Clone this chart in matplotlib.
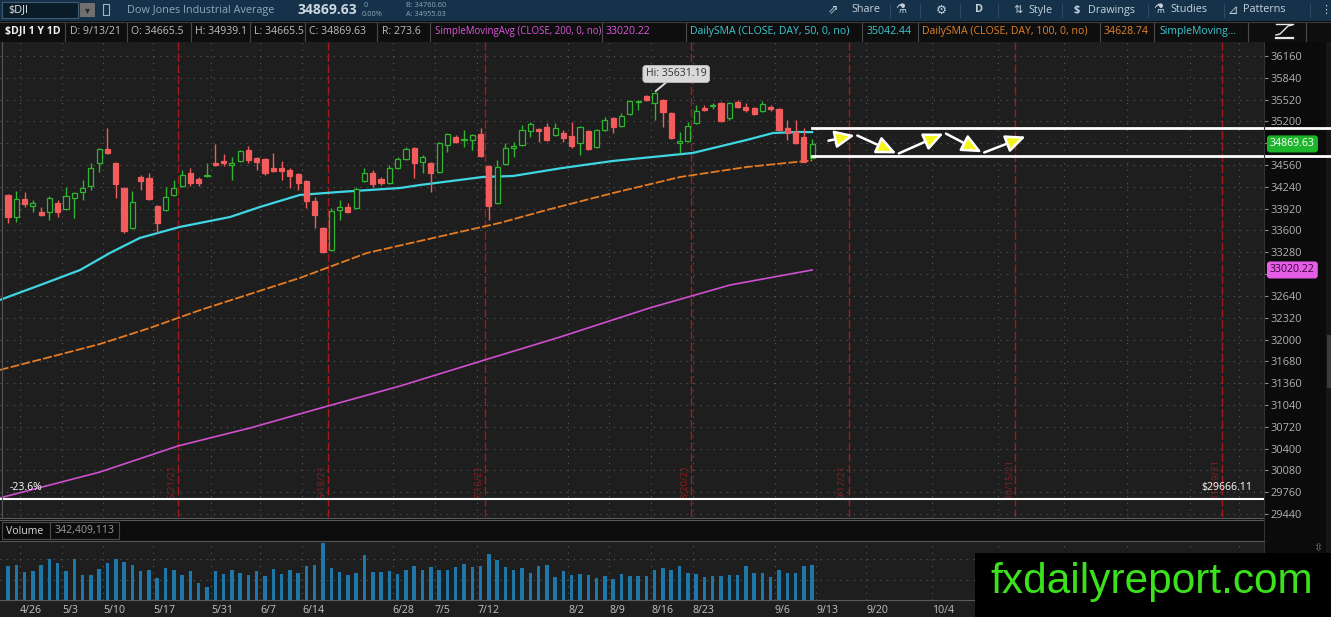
import numpy as np
import matplotlib
matplotlib.use("Agg")
import matplotlib.pyplot as plt
import matplotlib.transforms as mtrans
from matplotlib.patches import Rectangle
from matplotlib.lines import Line2D

# ---------------- data ----------------
opens = [34120, 33797, 34062, 33958, 33871, 33871, 34003, 33915, 34077, 34165,
         34253, 34590, 34795, 34590, 34224, 33636, 34385, 34370, 33959, 33900,
         34121, 34253, 34443, 34355, 34400, 34590, 34620, 34561, 34620, 34781,
         34664, 34649, 34517, 34517, 34487, 34429, 34326, 34033, 33636, 33314,
         33901, 33945, 33930, 34326, 34443, 34355, 34297, 34517, 34649, 34810,
         34605, 34590, 34458, 34854, 34972, 34920, 34928, 35016, 34546, 34003,
         34575, 34810, 34854, 35060, 35090, 35118, 35001, 35030, 34986, 34884,
         35060, 34825, 35074, 35250, 35133, 35309, 35485, 35573, 35470, 35514,
         35324, 34884, 34913, 35177, 35397, 35426, 35470, 35250, 35485, 35412,
         35397, 35353, 35412, 35382, 35104, 35045, 34972, 34665.5]
highs = [34130, 34180, 34165, 34047, 33944, 34106, 34047, 34238, 34165, 34341,
         34590, 34810, 35104, 34600, 34240, 34180, 34414, 34443, 33974, 34238,
         34341, 34487, 34517, 34385, 34590, 34870, 34722, 34678, 34781, 34840,
         34678, 34664, 34737, 34620, 34517, 34443, 34340, 34091, 33650, 33930,
         34047, 34003, 34238, 34517, 34487, 34385, 34561, 34678, 34825, 34830,
         34708, 34600, 34898, 35030, 35001, 35074, 35016, 35104, 34561, 34634,
         34883, 34898, 35148, 35192, 35104, 35177, 35177, 35074, 35192, 35133,
         35074, 35090, 35265, 35265, 35324, 35514, 35514, 35590, 35631.19, 35530,
         35338, 35045, 35192, 35441, 35441, 35470, 35485, 35485, 35514, 35470,
         35412, 35500, 35441, 35397, 35221, 35221, 35104, 34939.1]
lows = [33710, 33725, 33944, 33871, 33812, 33754, 33797, 33900, 33783, 34047,
        34194, 34458, 34722, 34077, 33563, 33620, 34194, 34047, 33563, 33880,
        34106, 34240, 34253, 34253, 34385, 34546, 34546, 34341, 34605, 34590,
        34487, 34414, 34458, 34341, 34224, 34194, 33930, 33636, 33270, 33300,
        33754, 33856, 33915, 34311, 34238, 34260, 34280, 34500, 34630, 34370,
        34443, 34165, 34440, 34751, 34883, 34825, 34781, 34678, 33754, 33990,
        34560, 34678, 34840, 34972, 34898, 34910, 34990, 34898, 34810, 34708,
        34780, 34810, 35060, 35030, 35118, 35294, 35368, 35500, 35221, 35118,
        34940, 34737, 34898, 35163, 35353, 35382, 35192, 35221, 35397, 35338,
        35294, 35338, 35353, 35060, 34928, 34870, 34605, 34665.5]
closes = [33797, 34062, 33988, 34003, 33827, 34077, 33871, 34106, 34150, 34224,
          34517, 34795, 34737, 34282, 33592, 34018, 34326, 34062, 33709, 34091,
          34224, 34414, 34297, 34297, 34414, 34560, 34590, 34590, 34766, 34634,
          34605, 34443, 34473, 34473, 34400, 34297, 34033, 33827, 33284, 33886,
          33945, 33871, 34209, 34443, 34282, 34297, 34517, 34649, 34795, 34590,
          34678, 34443, 34883, 35016, 34898, 34940, 35001, 34693, 33960, 34531,
          34810, 34840, 35074, 35163, 35060, 34928, 35104, 34957, 34840, 35118,
          34795, 35074, 35221, 35118, 35280, 35500, 35500, 35514, 35610, 35338,
          34957, 34913, 35133, 35353, 35368, 35441, 35206, 35470, 35412, 35368,
          35309, 35455, 35382, 35074, 35030, 34884, 34608, 34869.63]
volumes_m = [333, 342, 274, 284, 342, 401, 362, 284, 401, 245,
             245, 303, 362, 401, 372, 342, 284, 293, 215, 313,
             293, 245, 284, 166, 127, 284, 254, 293, 264, 245,
             284, 235, 303, 254, 293, 264, 333, 342, 557, 313,
             274, 245, 264, 440, 274, 274, 284, 254, 293, 333,
             293, 323, 293, 293, 323, 352, 323, 333, 453, 394,
             323, 293, 313, 264, 333, 342, 222, 284, 241, 251,
             241, 212, 231, 202, 251, 231, 231, 231, 293, 313,
             293, 333, 264, 251, 222, 231, 231, 241, 241, 333,
             264, 264, 222, 293, 264, 264, 333, 342.409113]

sma50_pos = [-1, 3.9, 8.7, 12.3, 15.9, 20.7, 26.8, 30.4, 35.2, 40.0, 47.3, 49.7,
             57.3, 60.9, 66.9, 73.0, 79.0, 82.6, 89.1, 92.3, 95.5, 97]
sma50_val = [32580, 32800, 33020, 33270, 33490, 33651, 33798, 33945, 34121, 34165,
             34223, 34267, 34385, 34399, 34517, 34620, 34693, 34737, 34928, 35030,
             35045, 35042.44]
sma100_pos = [-1, 5.1, 11.1, 17.1, 23.2, 29.2, 35.2, 43.3, 51.3, 59.3, 65.0, 73.0,
              81.1, 89.1, 97]
sma100_val = [31553, 31744, 31934, 32169, 32433, 32668, 32903, 33270, 33490, 33710,
              33901, 34150, 34385, 34531, 34628.74]
sma200_pos = [-1, 11.1, 20.5, 29.2, 38.6, 47.3, 57.5, 66.6, 77.4, 87.1, 97]
sma200_val = [29675, 30056, 30438, 30702, 31025, 31318, 31700, 32037, 32463, 32800,
              33020.22]

date_tick_pos = [1.45, 6.5, 11.5, 17.5, 24.5, 30.4, 35.5, 46.4, 51.5, 56.6, 67.6,
                 72.5, 77.6, 82.6, 92.5, 97.5, 103.5, 111.5]
date_tick_labels = ['4/26', '5/3', '5/10', '5/17', '5/31', '6/7', '6/14', '6/28',
                    '7/5', '7/12', '8/2', '8/9', '8/16', '8/23', '9/6', '9/13',
                    '9/20', '10/4']
future_grid_pos = [119.4, 127.4, 135.0, 142.6, 148.5]
expiry_pos = [20.5, 38.6, 57.5, 82.4, 101.4, 121.5, 146.4]
expiry_labels = ['5/21/21', '6/18/21', '7/16/21', '8/20/21', '9/17/21', '10/15/21',
                 '11/19/21']
price_ticks = [29440, 29760, 30080, 30400, 30720, 31040, 31360, 31680, 32000, 32320,
               32640, 32960, 33280, 33600, 33920, 34240, 34560, 34880, 35200, 35520,
               35840, 36160]
hidden_price_labels = [32960, 34880]   # covered by the price bubbles
fib_level = 29666.11
range_top, range_bottom = 35100, 34690
zigzag_pos = [98.8, 102.3, 107.3, 113.0, 117.6, 122.9]
zigzag_val = [34913, 35001, 34722, 35030, 34737, 34986]
hi_index, hi_value = 78, 35631.19
last_close = 34869.63
sma200_last = 33020.22

# ---------------- figure ----------------
W, H = 1331, 617
plt.rcParams['font.family'] = ['Open Sans', 'DejaVu Sans']
fig = plt.figure(figsize=(W / 100, H / 100), dpi=100)
fig.patch.set_facecolor('#1e1e1e')

BG = '#1e1e1e'
GREEN = '#2fb52f'
RED = '#f25c5c'
GRID = '#5a5a5a'
SYM = ['DejaVu Sans']


def frect(x0, y0, x1, y1, fc, ec='none', lw=0, z=-1):
    fig.add_artist(Rectangle((x0 / W, 1 - y1 / H), (x1 - x0) / W, (y1 - y0) / H,
                             transform=fig.transFigure, fc=fc, ec=ec, lw=lw, zorder=z))


def fline(x0, y0, x1, y1, color, lw=1.0, z=5, ls='-'):
    fig.add_artist(Line2D([x0 / W, x1 / W], [1 - y0 / H, 1 - y1 / H],
                          transform=fig.transFigure, color=color, lw=lw, zorder=z, ls=ls))


def ftext(x, y, s, **kw):
    kw.setdefault('va', 'center')
    kw.setdefault('ha', 'left')
    fig.text(x / W, 1 - y / H, s, **kw)


# --- panels ---
frect(0, 0, W, 21, '#15324a')                 # toolbar
frect(0, 21, W, 42, '#0e0e0e')                # study header row
frect(1264, 42, W, 553, '#0b0b0b')            # price axis panel
frect(1326, 42, W, 553, '#161616')
frect(1327, 335, W, 388, '#3a3a3a')
frect(0, 519, 1264, 541, '#0c0c0c')           # volume header

# --- toolbar ---
frect(2, 2, 78, 18, '#0b1c29', ec='#3f5a6e', lw=0.8, z=1)
ftext(8, 10, '$DJI', color='#e4e4e4', fontsize=7.8)
frect(80, 3, 95, 17, '#707070', z=1)
ftext(87.5, 10, '▾', color='#2a2a2a', fontsize=7, ha='center', family=SYM)
frect(103, 4, 109, 15, 'none', ec='#9fb3c2', lw=0.8, z=1)
ftext(127, 10, 'Dow Jones Industrial Average', color='#8ea6b8', fontsize=7.8)
ftext(297, 10, '34869.63', color='#cdd7de', fontsize=10, fontweight='bold')
ftext(364, 5.5, '0', color='#8ea6b8', fontsize=5.3)
ftext(362, 14, '0.00%', color='#8ea6b8', fontsize=5.3)
ftext(406, 5.5, 'B: 34760.60', color='#8ea6b8', fontsize=5.3)
ftext(406, 14, 'A: 34955.03', color='#8ea6b8', fontsize=5.3)
tb_col = '#c5d1da'
ftext(833, 10, '⇗', color=tb_col, fontsize=9, ha='center', family=SYM)
ftext(851, 10, 'Share', color=tb_col, fontsize=7.8)
ftext(901, 10, '⚗', color=tb_col, fontsize=9, ha='center', family=SYM)
ftext(941, 10, '⚙', color=tb_col, fontsize=9, ha='center', family=SYM)
ftext(979, 10, 'D', color=tb_col, fontsize=7.8, ha='center', fontweight='bold')
ftext(1018, 10, '⇅', color=tb_col, fontsize=8, ha='center', family=SYM)
ftext(1028, 10, 'Style', color=tb_col, fontsize=7.8)
ftext(1077, 10, '$', color=tb_col, fontsize=8, ha='center', fontweight='bold')
ftext(1088, 10, 'Drawings', color=tb_col, fontsize=7.8)
ftext(1159, 10, '⚗', color=tb_col, fontsize=9, ha='center', family=SYM)
ftext(1170, 10, 'Studies', color=tb_col, fontsize=7.8)
ftext(1233, 10, '⊿', color=tb_col, fontsize=9, ha='center', family=SYM)
ftext(1243, 10, 'Patterns', color=tb_col, fontsize=7.8)
ftext(1326, 10, '⋮', color=tb_col, fontsize=8, ha='center', family=SYM)
for sx in [890, 920, 960, 998, 1062, 1148, 1224, 1310]:
    fline(sx, 4, sx, 17, '#2c4a60', lw=0.8)

# --- study header row ---
hdr = [(5, '$DJI 1 Y 1D', '#f0f0f0', 'bold', 7.6),
       (70, 'D: 9/13/21', '#bdbdbd', 'normal', 7.6),
       (131, 'O: 34665.5', '#bdbdbd', 'normal', 7.6),
       (195, 'H: 34939.1', '#bdbdbd', 'normal', 7.6),
       (254, 'L: 34665.5', '#bdbdbd', 'normal', 7.6),
       (309, 'C: 34869.63', '#bdbdbd', 'normal', 7.6),
       (382, 'R: 273.6', '#bdbdbd', 'normal', 7.6),
       (435, 'SimpleMovingAvg (CLOSE, 200, 0, no)', '#df56df', 'normal', 6.9),
       (606, '33020.22', '#df56df', 'normal', 7.6),
       (690, 'DailySMA (CLOSE, DAY, 50, 0, no)', '#3cc9d3', 'normal', 7.6),
       (867, '35042.44', '#3cc9d3', 'normal', 7.6),
       (922, 'DailySMA (CLOSE, DAY, 100, 0, no)', '#e0822a', 'normal', 7.6),
       (1104, '34628.74', '#e0822a', 'normal', 7.6),
       (1159, 'SimpleMoving...', '#3cc9d3', 'normal', 7.6)]
for x, s, c, w, fs in hdr:
    ftext(x, 31.5, s, color=c, fontsize=fs, fontweight=w)
for sx in [65, 127, 191, 250, 305, 377, 430, 602, 686, 862, 918, 1100, 1154, 1248, 1306]:
    fline(sx, 22, sx, 41, '#4a4a4a', lw=0.8)
fline(0, 21.5, W, 21.5, '#3a3a3a', lw=0.8)
# study icon
fline(1276, 38, 1293, 38, '#e8e8e8', lw=1.6)
fig.add_artist(Line2D([1276 / W, 1280 / W, 1284 / W, 1288 / W, 1292 / W],
                      [1 - 35 / H, 1 - 34 / H, 1 - 30 / H, 1 - 26 / H, 1 - 25 / H],
                      transform=fig.transFigure, color='#e8e8e8', lw=1.0, zorder=5))
fline(1276, 24, 1293, 24, '#e8e8e8', lw=1.0)

# ---------------- main price pane ----------------
ax = fig.add_axes([0, 1 - 517 / H, 1264 / W, (517 - 42) / H])
ax.set_facecolor(BG)
ax.set_xlim(-0.965, 151.5)
ax.set_ylim(29396, 36365)
for sp in ax.spines.values():
    sp.set_visible(False)

ax.set_yticks(price_ticks)
ax.set_yticklabels(['' if v in hidden_price_labels else str(v) for v in price_ticks])
ax.yaxis.tick_right()
ax.tick_params(axis='y', direction='out', length=3, width=0.8, color='#8a8a8a',
               labelcolor='#b2b2b2', labelsize=7.9, pad=1.5)
ax.tick_params(axis='x', length=0, labelbottom=False)
ax.set_xticks([])
for pv in price_ticks:
    ax.axhline(pv, color=GRID, lw=0.8, ls=(0, (1, 5)), zorder=0.5)
for gx in date_tick_pos + future_grid_pos:
    ax.axvline(gx, color=GRID, lw=0.8, ls=(0, (1, 5)), zorder=0.5)

# expiration markers
for ex, lab in zip(expiry_pos, expiry_labels):
    ax.axvline(ex, color='#a01c1c', lw=1.0, ls=(0, (6, 2)), zorder=0.8)
    ax.text(ex - 0.2, 29655, lab, rotation=90, ha='right', va='bottom',
            color='#8e1d1d', fontsize=6.8, zorder=0.9)

# moving averages
ax.plot(sma200_pos, sma200_val, color='#cf4fcf', lw=1.2, zorder=2)
ax.plot(sma100_pos, sma100_val, color='#e67c22', lw=1.3, ls=(0, (5, 1.2)), zorder=2)
ax.plot(sma50_pos, sma50_val, color='#3fd6e4', lw=1.6, zorder=2)

# candles
o = np.array(opens); h = np.array(highs); l = np.array(lows); c = np.array(closes)
idx = np.arange(len(c))
up = c >= o
cols = [GREEN if u else RED for u in up]
ax.vlines(idx, l, h, colors=cols, lw=1.0, zorder=3)
body_bottom = np.minimum(o, c)
body_h = np.maximum(np.abs(c - o), 12)
ax.bar(idx, body_h, bottom=body_bottom, width=0.62,
       facecolor=[BG if u else RED for u in up], edgecolor=cols, linewidth=0.9, zorder=4)

# fib line
ax.axhline(fib_level, color='white', lw=1.5, zorder=3)
ax.text(0.25, fib_level + 80, '-23.6%', color='white', fontsize=7.6, va='bottom', ha='left')
ax.text(150.05, fib_level + 80, '$29666.11', color='white', fontsize=7.6, va='bottom',
        ha='right', zorder=5)

# Hi bubble
ax.annotate('Hi: 35631.19', xy=(hi_index, hi_value), xytext=(80.6, 35896),
            ha='center', va='center', fontsize=7.6, color='#333333',
            bbox=dict(boxstyle='round,pad=0.28', fc='#d9d9d9', ec='#c0c0c0', lw=0.6),
            arrowprops=dict(arrowstyle='-', color='#d9d9d9', lw=1.4, shrinkA=0, shrinkB=1),
            zorder=6)

# range rectangle lines (extend across axis panel)
blend = mtrans.blended_transform_factory(fig.transFigure, ax.transData)
x_start = (8 + 8.29 * 97) / W
for lv in (range_top, range_bottom):
    ax.plot([x_start, 1.0], [lv, lv], color='white', lw=2.0, transform=blend,
            clip_on=False, zorder=8)

# zigzag projection arrows
for i in range(len(zigzag_pos) - 1):
    ax.annotate('', xy=(zigzag_pos[i + 1], zigzag_val[i + 1]),
                xytext=(zigzag_pos[i], zigzag_val[i]),
                arrowprops=dict(arrowstyle='-|>,head_length=1.0,head_width=0.45',
                                mutation_scale=12, lw=1.8, edgecolor='white',
                                facecolor='#f5f51e', shrinkA=1, shrinkB=1),
                zorder=7)

# axis price bubbles
ax.text(1270 / W, last_close, '34869.63', transform=blend, clip_on=False,
        color='white', fontsize=7.6, va='center', ha='left', zorder=9,
        bbox=dict(boxstyle='round,pad=0.22', fc='#1db52b', ec='#1db52b'))
ax.text(1270 / W, sma200_last, '33020.22', transform=blend, clip_on=False,
        color='#3a003a', fontsize=7.6, va='center', ha='left', zorder=9,
        bbox=dict(boxstyle='round,pad=0.22', fc='#e65ee6', ec='#e65ee6'))

# pane borders
fline(1.5, 42, 1.5, 517, '#555555', lw=0.8)
fline(0, 517.5, 1264, 517.5, '#5a5a5a', lw=0.8)
fline(0, 520, 1264, 520, '#5a5a5a', lw=0.8)
fline(1264, 42, 1264, 553, '#333333', lw=0.8)

# ---------------- volume pane ----------------
axv = fig.add_axes([0, 1 - 600 / H, 1264 / W, (600 - 541) / H])
axv.set_facecolor(BG)
axv.set_xlim(-0.965, 151.5)
axv.set_ylim(0, 577)
for sp in axv.spines.values():
    sp.set_visible(False)
axv.bar(idx, volumes_m, width=0.42, color='#1d77a8', zorder=3)
for vv in (200, 400):
    axv.axhline(vv, color=GRID, lw=0.8, ls=(0, (1, 5)), zorder=0.5)
for gx in date_tick_pos + future_grid_pos:
    axv.axvline(gx, color=GRID, lw=0.8, ls=(0, (1, 5)), zorder=0.5)
axv.set_yticks([])
axv.set_xticks(date_tick_pos)
axv.set_xticklabels(date_tick_labels)
for lab in axv.get_xticklabels():
    lab.set_ha('left')
axv.tick_params(axis='x', length=0, pad=3.5, labelsize=7.6, labelcolor='#c2c2c2')
fline(0, 541, 1264, 541, '#555555', lw=0.8)
fline(0, 600, 1264, 600, '#5a5a5a', lw=0.8)

# volume header
frect(2, 522, 50, 539, 'none', ec='#4a4a4a', lw=0.8, z=1)
frect(50, 522, 119, 539, 'none', ec='#4a4a4a', lw=0.8, z=1)
ftext(6, 531, 'Volume', color='#d6d6d6', fontsize=7.6)
ftext(55, 531, '342,409,113', color='#9a9a9a', fontsize=7.6)
ftext(1318, 548, '⇳', color='#777777', fontsize=8, ha='center', family=SYM)

# ---------------- watermark ----------------
frect(975, 553, W, H, '#000000', z=20)
ftext(1152, 582, 'fxdailyreport.com', color='#3be11d', fontsize=30.5, ha='center',
      family=['Liberation Sans', 'DejaVu Sans'], zorder=21)

fig.savefig('out.png', dpi=100, facecolor=fig.get_facecolor())
